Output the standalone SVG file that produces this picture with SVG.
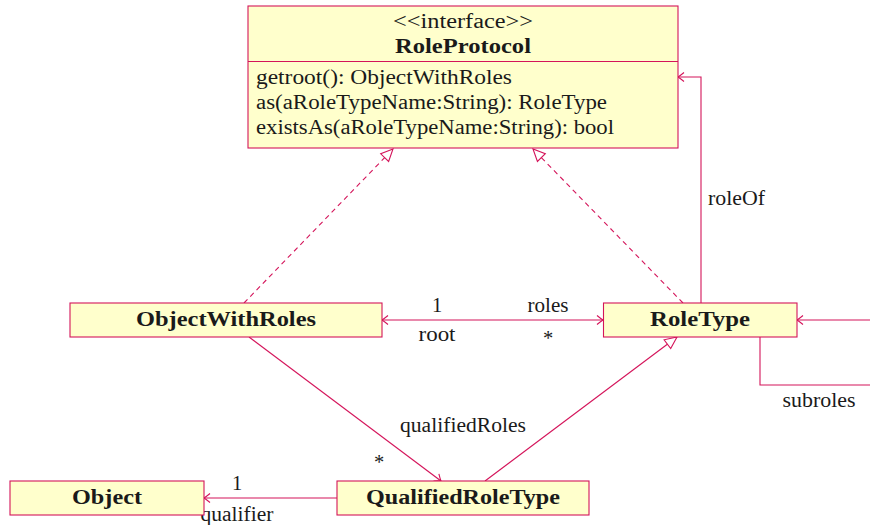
<svg xmlns="http://www.w3.org/2000/svg" width="870" height="525" viewBox="0 0 870 525">
  <style>
    .box { fill: #ffffcc; stroke: #d4145a; stroke-width: 1.1; }
    .edge { fill: none; stroke: #d4145a; stroke-width: 1.1; }
    .dash { stroke-dasharray: 5 4; }
    text { font-family: "Liberation Serif", "DejaVu Serif", serif; font-size: 20.5px; fill: #1a1a1a; }
    .b { font-weight: bold; }
    .m { text-anchor: middle; }
  </style>
  <defs>
    <marker id="open" viewBox="-8 -6 10 12" refX="0" refY="0" markerWidth="10" markerHeight="12" markerUnits="userSpaceOnUse" orient="auto-start-reverse">
      <path d="M-6,-4.5 Q-2,-1.2 0,0 Q-2,1.2 -6,4.5" fill="none" stroke="#d4145a" stroke-width="1.1"/>
    </marker>
    <marker id="tri" viewBox="-14 -7 16 14" refX="0" refY="0" markerWidth="16" markerHeight="14" markerUnits="userSpaceOnUse" orient="auto">
      <path d="M0,0 L-12,-5.5 L-12,5.5 Z" fill="#ffffff" stroke="#d4145a" stroke-width="1.1"/>
    </marker>
  </defs>

  <!-- connectors -->
  <g id="connectors">
    <!-- realisations of the interface -->
    <path class="edge dash" d="M244,303 L393,149" marker-end="url(#tri)"/>
    <path class="edge dash" d="M683,303 L533,149" marker-end="url(#tri)"/>
    <!-- roleOf -->
    <path class="edge" d="M701,303 V77 H678" marker-end="url(#open)"/>
    <text x="708" y="205" textLength="57" lengthAdjust="spacingAndGlyphs">roleOf</text>
    <!-- root / roles -->
    <path class="edge" d="M382,320 H603" marker-start="url(#open)" marker-end="url(#open)"/>
    <text class="m" x="437" y="312">1</text>
    <text class="m" x="548" y="312" textLength="41" lengthAdjust="spacingAndGlyphs">roles</text>
    <text class="m" x="437" y="341" textLength="37" lengthAdjust="spacingAndGlyphs">root</text>
    <text class="m" x="548" y="345">*</text>
    <!-- subroles loop -->
    <path class="edge" d="M870,320 H797" marker-end="url(#open)"/>
    <path class="edge" d="M760,337 V385 H870"/>
    <text class="m" x="819" y="407" textLength="73" lengthAdjust="spacingAndGlyphs">subroles</text>
    <!-- qualifiedRoles -->
    <path class="edge" d="M249,337 L441,481" marker-end="url(#open)"/>
    <text class="m" x="463" y="432" textLength="126" lengthAdjust="spacingAndGlyphs">qualifiedRoles</text>
    <text class="m" x="379" y="469">*</text>
    <!-- generalisation to RoleType -->
    <path class="edge" d="M485,481 L677,337" marker-end="url(#tri)"/>
    <!-- qualifier -->
    <path class="edge" d="M337,498 H204" marker-end="url(#open)"/>
    <text class="m" x="237" y="490">1</text>
    <text class="m" x="237" y="521" textLength="73" lengthAdjust="spacingAndGlyphs">qualifier</text>
  </g>

  <!-- interface RoleProtocol -->
  <g id="RoleProtocol">
    <rect class="box" x="248" y="6" width="430" height="142"/>
    <line class="edge" x1="248" y1="61.5" x2="678" y2="61.5"/>
    <text class="m" x="463" y="28" textLength="140" lengthAdjust="spacingAndGlyphs">&lt;&lt;interface&gt;&gt;</text>
    <text class="m b" x="463" y="53" textLength="136" lengthAdjust="spacingAndGlyphs">RoleProtocol</text>
    <text x="256" y="84" textLength="256" lengthAdjust="spacingAndGlyphs">getroot():  ObjectWithRoles</text>
    <text x="256" y="109" textLength="351" lengthAdjust="spacingAndGlyphs">as(aRoleTypeName:String):  RoleType</text>
    <text x="256" y="134" textLength="358" lengthAdjust="spacingAndGlyphs">existsAs(aRoleTypeName:String):  bool</text>
  </g>

  <g id="ObjectWithRoles">
    <rect class="box" x="70" y="303" width="312" height="34"/>
    <text class="m b" x="226" y="326" textLength="180" lengthAdjust="spacingAndGlyphs">ObjectWithRoles</text>
  </g>

  <g id="RoleType">
    <rect class="box" x="603.5" y="303" width="193.5" height="34"/>
    <text class="m b" x="700" y="326" textLength="100" lengthAdjust="spacingAndGlyphs">RoleType</text>
  </g>

  <g id="Object">
    <rect class="box" x="10" y="481" width="194" height="34"/>
    <text class="m b" x="107" y="504" textLength="70" lengthAdjust="spacingAndGlyphs">Object</text>
  </g>

  <g id="QualifiedRoleType">
    <rect class="box" x="337" y="481" width="252" height="34"/>
    <text class="m b" x="463" y="504" textLength="194" lengthAdjust="spacingAndGlyphs">QualifiedRoleType</text>
  </g>
</svg>
